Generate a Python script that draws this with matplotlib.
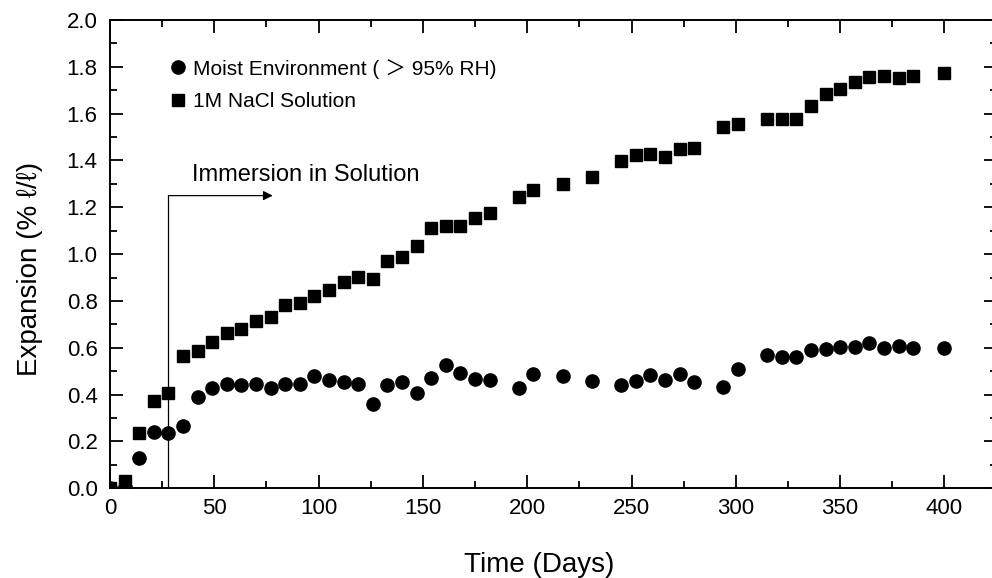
import numpy as np
import matplotlib
matplotlib.use("Agg")
import matplotlib.pyplot as plt
from matplotlib.ticker import MultipleLocator

plt.rcParams['font.family'] = ['Liberation Sans', 'Noto Sans CJK JP', 'DejaVu Sans']

# sampling days (weekly readings)
days = [0, 7, 14, 21, 28, 35, 42, 49, 56, 63, 70, 77, 84, 91, 98, 105, 112,
        119, 126, 133, 140, 147, 154, 161, 168, 175, 182, 196, 203, 217, 231,
        245, 252, 259, 266, 273, 280, 294, 301, 315, 322, 329, 336, 343, 350,
        357, 364, 371, 378, 385, 400]

# moist environment (>95% RH)
moist = [0.0, 0.006, 0.13, 0.241, 0.236, 0.265, 0.39, 0.429, 0.444, 0.44,
         0.444, 0.43, 0.447, 0.447, 0.48, 0.462, 0.452, 0.444, 0.359, 0.44,
         0.454, 0.406, 0.47, 0.526, 0.494, 0.466, 0.464, 0.43, 0.49, 0.479,
         0.459, 0.44, 0.457, 0.486, 0.462, 0.489, 0.455, 0.434, 0.509, 0.569,
         0.562, 0.562, 0.591, 0.594, 0.602, 0.605, 0.619, 0.601, 0.609, 0.601,
         0.601]

# 1M NaCl solution
nacl = [0.0, 0.03, 0.238, 0.372, 0.407, 0.564, 0.585, 0.624, 0.664, 0.679,
        0.715, 0.732, 0.782, 0.792, 0.822, 0.849, 0.879, 0.903, 0.893, 0.971,
        0.988, 1.034, 1.112, 1.122, 1.121, 1.155, 1.177, 1.242, 1.276, 1.299,
        1.330, 1.399, 1.423, 1.426, 1.416, 1.448, 1.455, 1.544, 1.554, 1.576,
        1.576, 1.576, 1.634, 1.684, 1.705, 1.734, 1.755, 1.761, 1.754, 1.762,
        1.775]

immersion_day = 28
arrow_end_day = 78
arrow_level = 1.25

fig = plt.figure(figsize=(9.92, 5.78), dpi=100)
ax = fig.add_axes([110/992, 1-488.3/578, 886.6/992, 468.3/578])

ax.plot(days, nacl, 's', color='black', ms=8.5, label='1M NaCl Solution', zorder=3)
ax.plot(days, moist, 'o', color='black', ms=9.5,
        label='Moist Environment ( ＞ 95% RH)', zorder=3)

# immersion marker
ax.plot([immersion_day, immersion_day], [0, arrow_level], color='black', lw=0.9)
ax.annotate('', xy=(arrow_end_day, arrow_level), xytext=(immersion_day, arrow_level),
            arrowprops=dict(arrowstyle='-|>', color='black', lw=0.9,
                            mutation_scale=14, shrinkA=0, shrinkB=0))
ax.text(39.5, 1.29, 'Immersion in Solution', fontsize=17, va='bottom', ha='left')

ax.set_xlim(0, 425)
ax.set_ylim(0, 2.0)
ax.xaxis.set_major_locator(MultipleLocator(50))
ax.xaxis.set_minor_locator(MultipleLocator(25))
ax.yaxis.set_major_locator(MultipleLocator(0.2))
ax.yaxis.set_minor_locator(MultipleLocator(0.1))
ax.yaxis.set_major_formatter(matplotlib.ticker.FormatStrFormatter('%.1f'))
ax.tick_params(which='both', direction='in', top=True, right=True, width=1.3,
               labelsize=16)
ax.tick_params(which='major', length=9.5)
ax.tick_params(which='minor', length=5)
ax.tick_params(axis='x', which='major', pad=7)
ax.tick_params(axis='y', which='major', pad=9)
for s in ax.spines.values():
    s.set_linewidth(1.4)

ax.set_xlabel('Time (Days)', fontsize=20)
ax.set_ylabel('Expansion (% ℓ/ℓ)', fontsize=20)
ax.xaxis.set_label_coords(0.484, -0.135)
ax.yaxis.set_label_coords(-0.076, 0.469)

h, l = ax.get_legend_handles_labels()
ax.legend(h[::-1], l[::-1], loc='upper left', bbox_to_anchor=(0.055, 0.935),
          frameon=False, fontsize=15, handletextpad=0.25, handlelength=1.0,
          labelspacing=0.65, borderaxespad=0)

fig.savefig('out.png', dpi=100)
